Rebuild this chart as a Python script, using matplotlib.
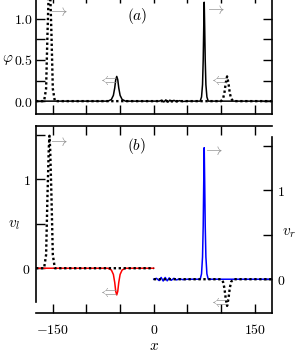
import matplotlib
matplotlib.use("Agg")
import matplotlib.pyplot as plt

plt.rcParams['mathtext.fontset'] = 'cm'
plt.rcParams['font.family'] = ['DejaVu Serif']
plt.rcParams['font.size'] = 10

# ---- data ----
# panel (a): phi, solid = later time, dotted = initial
phi_x = [-175, -68, -63, -60, -58, -56.5, -55, -53.5, -52, -50, -47, -42,
         8, 12, 15, 18, 21, 24, 27, 30, 34, 38, 43, 50,
         69, 71, 72.5, 73.5, 74.3, 75, 75.7, 76.5, 77.5, 79, 81, 175]
phi_y = [0, 0, 0.02, 0.07, 0.16, 0.26, 0.30, 0.26, 0.16, 0.07, 0.02, 0,
         0, 0.012, -0.01, 0.015, -0.012, 0.012, -0.008, 0.01, -0.008, 0.006, -0.004, 0,
         0, 0.05, 0.2, 0.5, 0.9, 1.2, 0.9, 0.5, 0.2, 0.05, 0, 0]

phi0_x = [-175, -163, -160, -158, -156, -155, -154, -152, -150, -147,
          100, 103, 105, 107, 109, 111, 113, 115, 118, 175]
phi0_y = [0, 0, 0.15, 0.8, 1.35, 1.5, 1.35, 0.8, 0.15, 0,
          0, 0.03, 0.1, 0.22, 0.30, 0.22, 0.1, 0.03, 0, 0]

# panel (b): v_l (left half), v_r (right half)
vl_x = [-175, -68, -63, -60, -58, -56.5, -55, -53.5, -52, -50, -47, -42, 0]
vl_y = [0, 0, -0.02, -0.07, -0.16, -0.26, -0.30, -0.26, -0.16, -0.07, -0.02, 0, 0]

vl0_x = [-175, -163, -160, -158, -156, -155, -154, -152, -150, -147, 0]
vl0_y = [0, 0, 0.15, 0.8, 1.35, 1.49, 1.35, 0.8, 0.15, 0, 0]

vr_x = [0, 4, 8, 11, 14, 17, 20, 23, 26, 30, 34, 38, 43, 50,
        69, 71, 72.5, 73.5, 74.3, 75, 75.7, 76.5, 77.5, 79, 81, 175]
vr_y = [0, 0.01, -0.015, 0.02, -0.02, 0.02, -0.018, 0.015, -0.012, 0.01, -0.008, 0.005, -0.004, 0,
        0, 0.06, 0.25, 0.6, 1.1, 1.48, 1.1, 0.6, 0.25, 0.06, 0, 0]

vr0_x = [0, 100, 103, 105, 107, 109, 111, 113, 115, 118, 175]
vr0_y = [0, 0, -0.03, -0.1, -0.22, -0.30, -0.22, -0.1, -0.03, 0, 0]

xticks = [-150, -100, -50, 0, 50, 100, 150]
xticklabels = ['$-150$', '', '', '$0$', '', '', '$150$']

W, H = 297, 354
fig = plt.figure(figsize=(W / 100, H / 100), dpi=100)


def box(l, t, r, b):
    # pixel box -> figure coords
    return [l / W, 1 - b / H, (r - l) / W, (b - t) / H]


def style_ticks(ax):
    ax.tick_params(direction='in', length=6.5, width=1.0, labelsize=10)
    for s in ax.spines.values():
        s.set_linewidth(1.2)


gray = '#8c8c8c'
arrow_fs = 12

# ---- panel (a) ----
ax1 = fig.add_axes(box(36, -6, 271.5, 113.5))
ax1.plot(phi_x, phi_y, color='black', lw=1.1)
ax1.plot(phi0_x, phi0_y, color='black', lw=1.7, ls=(0, (1, 1.1)))
ax1.set_xlim(-175, 175)
ax1.set_ylim(-0.15, 1.3)
ax1.set_xticks(xticks)
ax1.set_xticklabels([])
ax1.set_yticks([0, 0.25, 0.5, 0.75, 1.0, 1.25])
ax1.set_yticklabels(['$0.0$', '', '$0.5$', '', '$1.0$', ''])
ax1.tick_params(top=True, right=True, pad=2)
style_ticks(ax1)
ax1.text(-25, 1.03, '$(a)$', ha='center', va='center', fontsize=11)
ax1.text(-142, 1.09, r'$\rightarrow$', color=gray, ha='center', va='center', fontsize=arrow_fs)
ax1.text(92, 1.11, r'$\rightarrow$', color=gray, ha='center', va='center', fontsize=arrow_fs)
ax1.text(-67, 0.25, r'$\Leftarrow$', color=gray, ha='center', va='center', fontsize=arrow_fs)
ax1.text(97, 0.25, r'$\Leftarrow$', color=gray, ha='center', va='center', fontsize=arrow_fs)
fig.text(8 / W, 1 - 60 / H, r'$\varphi$', ha='center', va='center', fontsize=11)

# ---- panel (b): outer frame with x axis ----
ax2 = fig.add_axes(box(36, 126, 271.5, 313))
ax2.set_xlim(-175, 175)
ax2.set_xticks(xticks)
ax2.set_xticklabels(xticklabels)
ax2.set_yticks([])
ax2.spines['left'].set_visible(False)
ax2.spines['right'].set_visible(False)
ax2.tick_params(top=True, pad=7)
style_ticks(ax2)
ax2.patch.set_alpha(0)
ax2.set_xlabel('$x$', fontsize=11, labelpad=2)

# left inner axis (v_l)
axl = fig.add_axes(box(36, 126, 271.5, 302))
axl.plot(vl_x, vl_y, color='red', lw=1.1)
axl.plot(vl0_x, vl0_y, color='black', lw=1.7, ls=(0, (1, 1.1)))
axl.set_xlim(-175, 175)
axl.set_ylim(-0.38, 1.6)
axl.set_yticks([0, 0.5, 1.0, 1.5])
axl.set_yticklabels(['$0$', '', '$1$', ''])
axl.set_xticks([])
for s in ['top', 'bottom', 'right']:
    axl.spines[s].set_visible(False)
axl.tick_params(pad=4)
style_ticks(axl)
axl.patch.set_alpha(0)
axl.text(-142, 1.43, r'$\rightarrow$', color=gray, ha='center', va='center', fontsize=arrow_fs)
axl.text(-67, -0.27, r'$\Leftarrow$', color=gray, ha='center', va='center', fontsize=arrow_fs)
axl.text(-25, 1.37, '$(b)$', ha='center', va='center', fontsize=11)

# right inner axis (v_r)
axr = fig.add_axes(box(36, 137, 271.5, 313))
axr.plot(vr_x, vr_y, color='blue', lw=1.1)
axr.plot(vr0_x, vr0_y, color='black', lw=1.7, ls=(0, (1, 1.1)))
axr.set_xlim(-175, 175)
axr.set_ylim(-0.38, 1.6)
axr.yaxis.tick_right()
axr.set_yticks([0, 0.5, 1.0, 1.5])
axr.set_yticklabels(['$0$', '', '$1$', ''])
axr.set_xticks([])
for s in ['top', 'bottom', 'left']:
    axr.spines[s].set_visible(False)
axr.tick_params(pad=4)
style_ticks(axr)
axr.patch.set_alpha(0)
axr.text(88, 1.45, r'$\rightarrow$', color=gray, ha='center', va='center', fontsize=arrow_fs)
axr.text(97, -0.26, r'$\Leftarrow$', color=gray, ha='center', va='center', fontsize=arrow_fs)

fig.text(14 / W, 1 - 225 / H, '$v_l$', ha='center', va='center', fontsize=11)
fig.text(282 / W, 1 - 233 / H, '$v_r$', ha='left', va='center', fontsize=11)

fig.savefig('out.png', dpi=100)
